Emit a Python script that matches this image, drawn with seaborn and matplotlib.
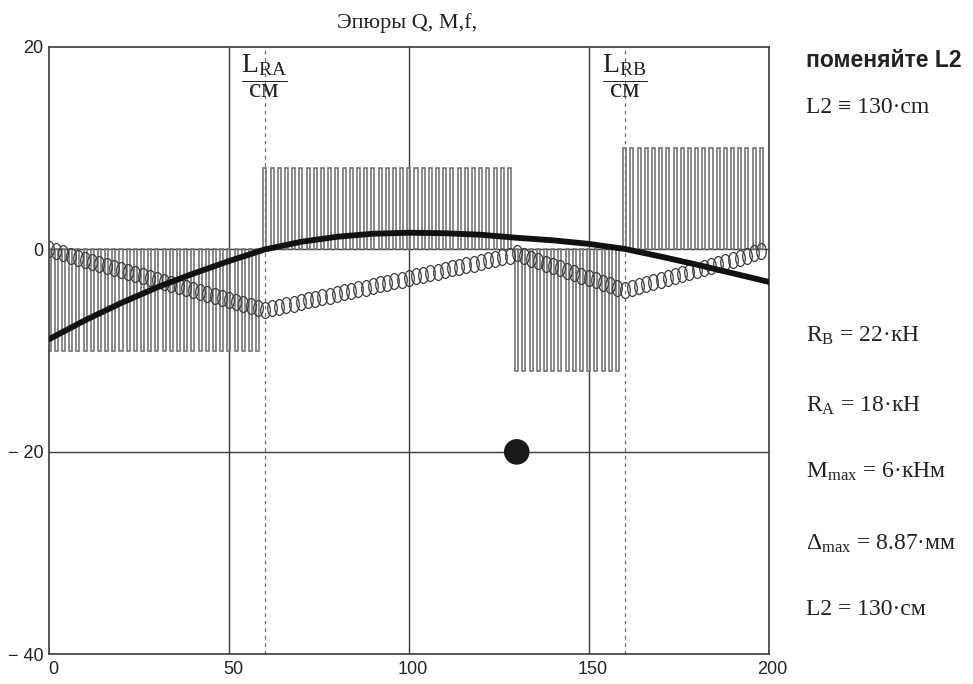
import matplotlib
matplotlib.use('Agg')
import matplotlib.pyplot as plt
import matplotlib.transforms as mtransforms
from matplotlib.path import Path
import seaborn as sns

# sample points along the beam, cm
x_pts = list(range(0, 200, 2))

# shear force Q, kN (bar trace)
q_vals = [-10] * 30 + [8] * 35 + [-12] * 15 + [10] * 20

# bending moment M, kNm (circle trace), read at every sample point
m_vals = [
    0.0, -0.2, -0.4, -0.6, -0.8, -1.0, -1.2, -1.4, -1.6, -1.8,
    -2.0, -2.2, -2.4, -2.6, -2.8, -3.0, -3.2, -3.4, -3.6, -3.8,
    -4.0, -4.2, -4.4, -4.6, -4.8, -5.0, -5.2, -5.4, -5.6, -5.8,
    -6.0, -5.8, -5.7, -5.5, -5.4, -5.2, -5.0, -4.9, -4.7, -4.6,
    -4.4, -4.2, -4.1, -3.9, -3.8, -3.6, -3.4, -3.3, -3.1, -3.0,
    -2.8, -2.6, -2.5, -2.3, -2.2, -2.0, -1.8, -1.7, -1.5, -1.4,
    -1.2, -1.0, -0.9, -0.7, -0.6, -0.4, -0.6, -0.9, -1.1, -1.4,
    -1.6, -1.8, -2.1, -2.3, -2.6, -2.8, -3.0, -3.3, -3.5, -3.8,
    -4.0, -3.8, -3.6, -3.4, -3.2, -3.0, -2.8, -2.6, -2.4, -2.2,
    -2.0, -1.8, -1.6, -1.4, -1.2, -1.0, -0.8, -0.6, -0.4, -0.2,
]

# deflection f, mm (thick line)
f_x = [0, 10, 20, 30, 40, 50, 60, 70, 80, 90, 100,
       110, 120, 130, 140, 150, 160, 170, 180, 190, 200]
f_vals = [-8.87, -7.0, -5.3, -3.75, -2.4, -1.15, 0.0, 0.75, 1.25, 1.55, 1.65,
          1.6, 1.45, 1.15, 0.9, 0.55, 0.05, -0.7, -1.5, -2.35, -3.2]

# load marker
load_x = [130]
load_y = [-20]

# supports
support_x = [60, 160]
support_names = ['RA', 'RB']

x_ticks = [0, 50, 100, 150, 200]
y_ticks = [-40, -20, 0, 20]
y_ticklabels = ['− 40', '− 20', '0', '20']
grid_x = [50, 100, 150]
grid_y = [-20, 0]

notes = [
    'L2 ≡ 130·cm',
    'R$_\\mathrm{B}$ = 22·кН',
    'R$_\\mathrm{A}$ = 18·кН',
    'M$_\\mathrm{max}$ = 6·кНм',
    'Δ$_\\mathrm{max}$ = 8.87·мм',
    'L2 = 130·см',
]

sns.set_style('white')
plt.rcParams['font.family'] = ['Liberation Sans', 'DejaVu Sans']
plt.rcParams['mathtext.fontset'] = 'custom'
plt.rcParams['mathtext.rm'] = 'Liberation Serif'
plt.rcParams['mathtext.it'] = 'Liberation Serif:italic'
plt.rcParams['mathtext.bf'] = 'Liberation Serif:bold'

serif = ['Liberation Serif', 'DejaVu Serif']
line_col = '#3a3a3a'

# tall ellipse, like the Mathcad circle marker
circ = Path.unit_circle()
oval = Path(circ.vertices * [0.6, 1.0], circ.codes)

fig = plt.figure(figsize=(9.73, 6.84), dpi=100)
ax = fig.add_axes([0.0504, 0.0434, 0.7395, 0.8879])

# grid and support lines
for gx in grid_x:
    ax.axvline(gx, color=line_col, lw=1.0, zorder=1)
for gy in grid_y:
    ax.axhline(gy, color=line_col, lw=1.0, zorder=1)
for sx in support_x:
    ax.axvline(sx, color='#707070', lw=0.9, ls=(0, (3, 3)), zorder=1)

# Q bars
sns.barplot(x=x_pts, y=q_vals, native_scale=True, fill=False, color='#767676',
            saturation=1, width=0.42, linewidth=1.2, errorbar=None, ax=ax, zorder=2)

# M circles
sns.lineplot(x=x_pts, y=m_vals, ax=ax, marker=oval, linestyle='none', markersize=11.5,
             markerfacecolor='none', markeredgecolor='#3c3c3c', markeredgewidth=0.9,
             zorder=3)

# deflection
sns.lineplot(x=f_x, y=f_vals, ax=ax, color='#111111', linewidth=4.2, zorder=4)

# load point
sns.scatterplot(x=load_x, y=load_y, ax=ax, s=340, color='#1a1a1a',
                edgecolor='none', zorder=5)

# support labels as fractions
for sx, name in zip(support_x, support_names):
    ax.text(sx, 17.1, r'$\dfrac{\mathrm{L_{%s}}}{\mathrm{см}}$' % name,
            ha='center', va='center', fontsize=20, color='#222222', zorder=6)

ax.set_xlim(0, 200)
ax.set_ylim(-40, 20)
ax.set_xticks(x_ticks)
ax.set_xticklabels([str(t) for t in x_ticks])
ax.set_yticks(y_ticks)
ax.set_yticklabels(y_ticklabels)
ax.set_xlabel('')
ax.set_ylabel('')
ax.tick_params(length=0, labelsize=13, colors='#222222')
ax.tick_params(axis='x', pad=5)
ax.tick_params(axis='y', pad=4)
shift = mtransforms.ScaledTranslation(4 / 100, 0, fig.dpi_scale_trans)
for lab in ax.get_xticklabels():
    lab.set_transform(lab.get_transform() + shift)
for sp in ax.spines.values():
    sp.set_visible(True)
    sp.set_color(line_col)
    sp.set_linewidth(1.2)

fig.text(0.4188, 0.959, 'Эпюры Q, M,f,', ha='center', va='baseline',
         fontsize=16, family=serif, color='#222222')

fig.text(0.828, 0.9025, 'поменяйте L2', ha='left', va='baseline',
         fontsize=16.5, fontweight='bold', color='#222222')
note_y = [0.8348, 0.5004, 0.3981, 0.3012, 0.1959, 0.1009]
for txt, ny in zip(notes, note_y):
    fig.text(0.828, ny, txt, ha='left', va='baseline', fontsize=17,
             family=serif, color='#222222')

fig.savefig('out.png', dpi=100)
